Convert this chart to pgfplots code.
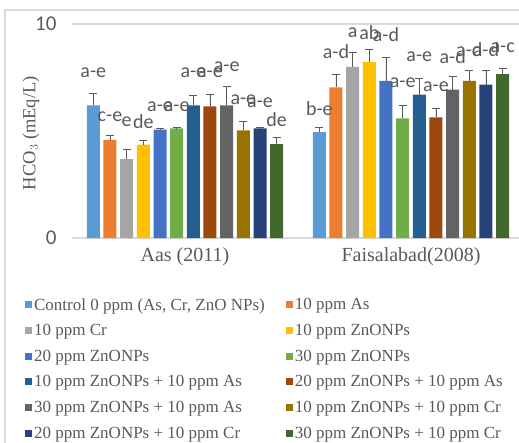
\documentclass[border=0pt]{standalone}
\usepackage{pgfplots}
\pgfplotsset{compat=1.18}
\usepackage{fontspec}
\setmainfont{Liberation Serif}
\newfontfamily\calibri{Carlito}
\definecolor{c1}{HTML}{5B9BD5}
\definecolor{c2}{HTML}{ED7D31}
\definecolor{c3}{HTML}{A5A5A5}
\definecolor{c4}{HTML}{FFC000}
\definecolor{c5}{HTML}{4472C4}
\definecolor{c6}{HTML}{70AD47}
\definecolor{c7}{HTML}{255E91}
\definecolor{c8}{HTML}{9E480E}
\definecolor{c9}{HTML}{636363}
\definecolor{c10}{HTML}{997300}
\definecolor{c11}{HTML}{264478}
\definecolor{c12}{HTML}{43682B}
\definecolor{txt}{HTML}{595959}
\definecolor{grd}{HTML}{D9D9D9}
\pgfplotsset{
  mybar/.style={ybar, bar width=13pt, bar shift=0pt, draw=none,
    legend image code/.code={\fill[##1] (0pt,-3.5pt) rectangle (7pt,3.5pt);},
    error bars/y dir=plus, error bars/y explicit,
    error bars/error bar style={color=txt, line width=0.8pt},
    error bars/error mark options={rotate=90, mark size=4pt, color=txt, line width=0.8pt}},
  lab/.style={ybar, bar width=13pt, bar shift=0pt, draw=none, fill=none, forget plot,
    nodes near coords, point meta=explicit symbolic,
    every node near coord/.append style={anchor=center, inner sep=0pt,
      font=\calibri\fontsize{20}{22}\selectfont, text=txt}},
}
\begin{document}
\begin{tikzpicture}
\begin{axis}[
  at={(72pt,-238pt)}, anchor=south west,
  scale only axis, width=447pt, height=214pt,
  xmin=-0.5, xmax=1.478, ymin=0, ymax=10,
  xtick={0,1}, xticklabels={Aas (2011), Faisalabad(2008)},
  ytick={0,10},
  major tick length=0pt,
  axis line style={draw=none},
  ymajorgrids, grid style={grd, line width=1.2pt},
  /pgf/number format/assume math mode=true,
  yticklabel style={font=\calibri\fontsize{21}{24}\selectfont, text=txt, xshift=-12pt},
  xticklabel style={font=\fontsize{20}{22}\selectfont, text=txt, yshift=-6pt},
  ylabel={HCO$_3$ (mEq/L)},
  ylabel style={at={(axis description cs:-0.092,0.49)}, anchor=center, font=\fontsize{18.5}{20}\selectfont, text=txt},
  clip=false,
  legend columns=2,
  legend cell align=left,
  legend style={at={(axis description cs:-0.112,-0.262)}, anchor=north west, draw=none, fill=none,
    font=\fontsize{17}{19}\selectfont, text=txt, row sep=8.8pt,
    nodes={inner xsep=2pt},
    /tikz/every even column/.append style={column sep=19pt}},
]
\addplot[mybar, fill=c1] coordinates {(-0.4057,6.20) +- (0,0.56) (0.5943,4.95) +- (0,0.22)};
\addlegendentry{Control 0 ppm (As, Cr, ZnO NPs)}
\addplot[mybar, fill=c2] coordinates {(-0.3319,4.58) +- (0,0.20) (0.6681,7.04) +- (0,0.62)};
\addlegendentry{10 ppm As}
\addplot[mybar, fill=c3] coordinates {(-0.2582,3.68) +- (0,0.48) (0.7418,8.00) +- (0,0.66)};
\addlegendentry{10 ppm Cr}
\addplot[mybar, fill=c4] coordinates {(-0.1844,4.36) +- (0,0.20) (0.8156,8.22) +- (0,0.61)};
\addlegendentry{10 ppm ZnONPs}
\addplot[mybar, fill=c5] coordinates {(-0.1106,5.06) +- (0,0.04) (0.8894,7.34) +- (0,1.09)};
\addlegendentry{20 ppm ZnONPs}
\addplot[mybar, fill=c6] coordinates {(-0.0369,5.12) +- (0,0.04) (0.9631,5.59) +- (0,0.59)};
\addlegendentry{30 ppm ZnONPs}
\addplot[mybar, fill=c7] coordinates {(0.0369,6.20) +- (0,0.48) (1.0369,6.70) +- (0,0.76)};
\addlegendentry{10 ppm ZnONPs + 10 ppm As}
\addplot[mybar, fill=c8] coordinates {(0.1106,6.15) +- (0,0.55) (1.1106,5.64) +- (0,0.43)};
\addlegendentry{20 ppm ZnONPs + 10 ppm As}
\addplot[mybar, fill=c9] coordinates {(0.1844,6.20) +- (0,0.87) (1.1844,6.93) +- (0,0.61)};
\addlegendentry{30 ppm ZnONPs + 10 ppm As}
\addplot[mybar, fill=c10] coordinates {(0.2582,5.03) +- (0,0.42) (1.2582,7.34) +- (0,0.48)};
\addlegendentry{10 ppm ZnONPs + 10 ppm Cr}
\addplot[mybar, fill=c11] coordinates {(0.3319,5.12) +- (0,0.04) (1.3319,7.17) +- (0,0.65)};
\addlegendentry{20 ppm ZnONPs + 10 ppm Cr}
\addplot[mybar, fill=c12] coordinates {(0.4057,4.39) +- (0,0.30) (1.4057,7.66) +- (0,0.28)};
\addlegendentry{30 ppm ZnONPs + 10 ppm Cr}
% letters
\addplot[lab] coordinates {(-0.4057,7.71) [a-e] (0.5943,6.03) [b-e]};
\addplot[lab] coordinates {(-0.3319,5.65) [c-e] (0.6681,8.69) [a-d]};
\addplot[lab] coordinates {(-0.2582,5.42) [e] (0.7418,9.58) [a]};
\addplot[lab] coordinates {(-0.1844,5.42) [de] (0.8156,9.58) [ab]};
\addplot[lab] coordinates {(-0.1106,6.12) [a-e] (0.8894,9.49) [a-d]};
\addplot[lab] coordinates {(-0.0369,6.12) [a-e] (0.9631,7.24) [a-e]};
\addplot[lab] coordinates {(0.0369,7.71) [a-e] (1.0369,8.46) [a-e]};
\addplot[lab] coordinates {(0.1106,7.71) [a-e] (1.1106,7.06) [a-e]};
\addplot[lab] coordinates {(0.1844,7.99) [a-e] (1.1844,8.46) [a-d]};
\addplot[lab] coordinates {(0.2582,6.45) [a-e] (1.2582,8.79) [a-d]};
\addplot[lab] coordinates {(0.3319,6.31) [a-e] (1.3319,8.79) [a-d]};
\addplot[lab] coordinates {(0.4057,5.51) [de] (1.4057,8.88) [a-c]};
\end{axis}
\draw[grd, line width=1.2pt] (5pt,-443pt) -- (5pt,-10pt) -- (519pt,-10pt);
\pgfresetboundingbox
\useasboundingbox (0,0) rectangle (519pt,-443pt);
\end{tikzpicture}
\end{document}
